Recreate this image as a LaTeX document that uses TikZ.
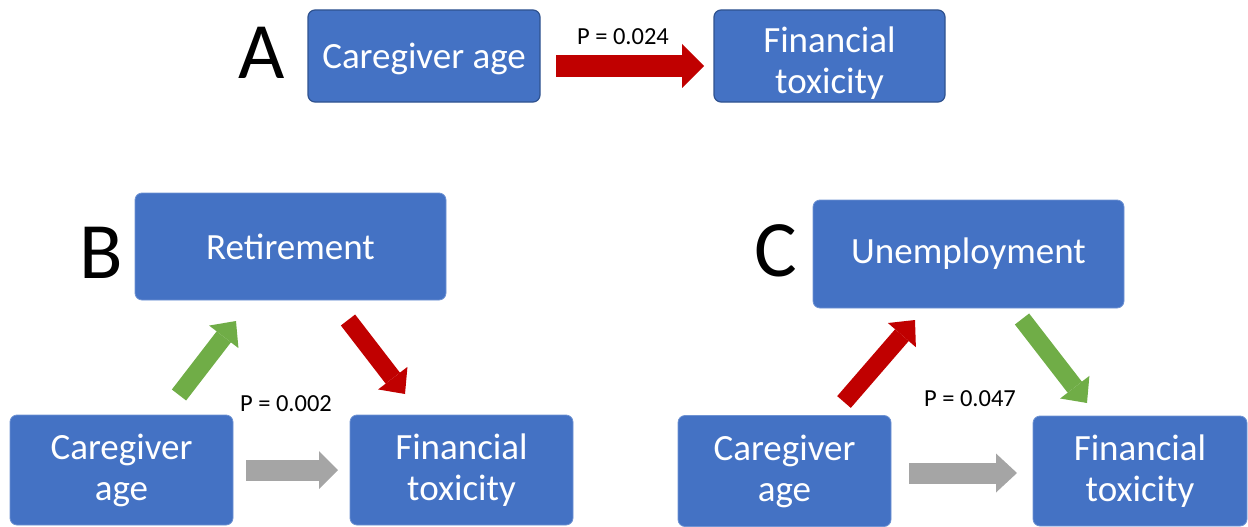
\documentclass[tikz,border=0pt]{standalone}
\usepackage{fontspec}
\setmainfont{Carlito}
\usetikzlibrary{arrows.meta}
\definecolor{boxblue}{HTML}{4472C4}
\definecolor{edgedark}{HTML}{2F528F}
\definecolor{edgelight}{HTML}{6F93D3}
\definecolor{arrred}{HTML}{C00000}
\definecolor{arrgreen}{HTML}{70AD47}
\definecolor{arrgray}{HTML}{A5A5A5}
\tikzset{
  boxtxt/.style={text=white, font=\fontsize{37}{41}\selectfont, align=center, inner sep=0pt},
  box/.style={rectangle, rounded corners=7pt, fill=boxblue, draw=edgelight, line width=0.8pt, boxtxt},
  boxA/.style={box, draw=edgedark, line width=1.2pt},
  panel/.style={font=\fontsize{80}{80}\selectfont, anchor=base, inner sep=0pt},
  plabel/.style={font=\fontsize{24.5}{26}\selectfont, inner sep=0pt},
  fatarrow/.style n args={4}{draw=#1, line width=#2pt, line cap=butt,
    -{Triangle[length=#4pt,width=#3pt,line width=0pt]}}
}
\begin{document}
\begin{tikzpicture}[x=1pt,y=-1pt]
\useasboundingbox (0,0) rectangle (1248,527);

% Panel A
\node[panel] (lA) at (262,78) {A};
\node[boxA, minimum width=232pt, minimum height=92pt] (cgA) at (424,56) {};
\node[boxtxt] (cgAtext) at (cgA.center) [yshift=-3pt] {Caregiver age};
\node[boxA, minimum width=231pt, minimum height=92pt] (ftA) at (829.5,56) {};
\node[boxtxt] (ftAtext) at (ftA.center) [yshift=-7pt] {Financial\\toxicity};
\coordinate (a1s) at (556,66);
\coordinate (a1e) at (704,66);
\draw[fatarrow={arrred}{22}{44}{22}] (a1s) -- (a1e);
\node[plabel] (pA) at (623,37) {P = 0.024};

% Panel B
\node[panel] (lB) at (101,278) {B};
\node[box, minimum width=311pt, minimum height=107pt] (retB) at (290.5,246.5) {Retirement};
\node[box, minimum width=223pt, minimum height=110pt] (cgB) at (121.5,470) {Caregiver\\age};
\node[box, minimum width=223pt, minimum height=110pt] (ftB) at (461.5,470) {Financial\\toxicity};
\coordinate (b1s) at (179,395);
\coordinate (b1e) at (236,321);
\coordinate (b2s) at (348,320);
\coordinate (b2e) at (405,394);
\coordinate (b3s) at (246,470);
\coordinate (b3e) at (338,470);
\draw[fatarrow={arrgreen}{18}{37}{20}] (b1s) -- (b1e);
\draw[fatarrow={arrred}{18}{37}{20}] (b2s) -- (b2e);
\draw[fatarrow={arrgray}{21}{38}{19}] (b3s) -- (b3e);
\node[plabel] (pB) at (286,404) {P = 0.002};

% Panel C
\node[panel] (lC) at (776,276) {C};
\node[box, minimum width=311pt, minimum height=108pt] (unC) at (968.5,254) {Unemployment};
\node[box, minimum width=213pt, minimum height=111pt] (cgC) at (784.5,471) {Caregiver\\age};
\node[box, minimum width=214pt, minimum height=110pt] (ftC) at (1140,471) {Financial\\toxicity};
\coordinate (c1s) at (844,402);
\coordinate (c1e) at (915,320);
\coordinate (c2s) at (1022,319);
\coordinate (c2e) at (1087,403);
\coordinate (c3s) at (909,473);
\coordinate (c3e) at (1017,473);
\draw[fatarrow={arrred}{18}{37}{20}] (c1s) -- (c1e);
\draw[fatarrow={arrgreen}{18}{37}{20}] (c2s) -- (c2e);
\draw[fatarrow={arrgray}{21}{39}{21}] (c3s) -- (c3e);
\node[plabel] (pC) at (970,399) {P = 0.047};
\end{tikzpicture}
\end{document}
